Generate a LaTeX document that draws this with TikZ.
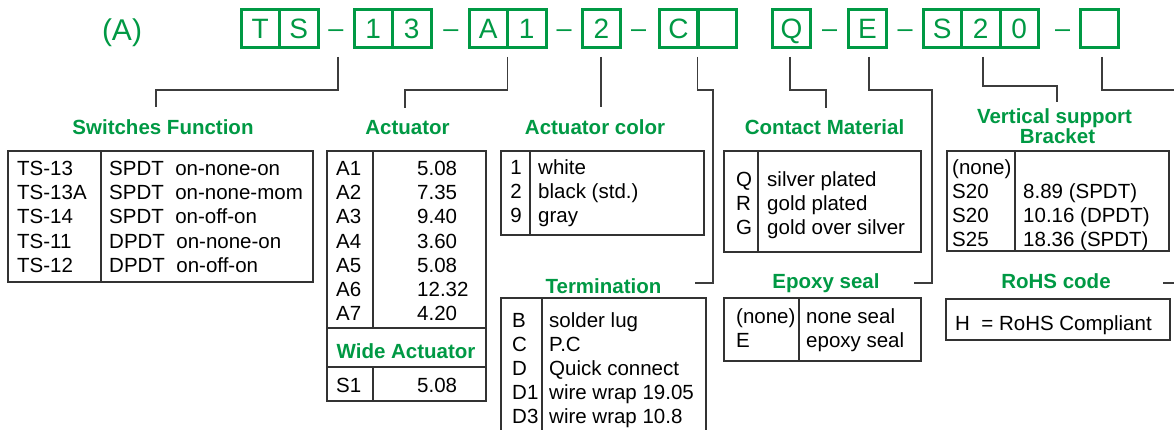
\documentclass[tikz,border=0pt]{standalone}
\usepackage{fontspec}
\setmainfont{Liberation Sans}
\definecolor{grn}{RGB}{0,153,68}
\definecolor{ln}{RGB}{60,60,60}
\definecolor{tb}{RGB}{50,50,50}
\tikzset{
  hbox/.style={draw=grn, line width=3pt, minimum width=38.5pt, minimum height=37.5pt,
    inner sep=0pt, text=grn, font=\fontsize{28}{30}\selectfont, text height=20pt, text depth=0pt},
  hdash/.style={text=grn, font=\fontsize{27}{30}\selectfont, anchor=base, inner sep=0pt},
  ttl/.style={text=grn, font=\fontsize{20.5}{24}\selectfont\bfseries, anchor=base, inner sep=0pt},
  cell/.style={font=\fontsize{20.5}{24}\selectfont, anchor=base west, inner sep=0pt, text=black},
  cellc/.style={font=\fontsize{20.5}{24}\selectfont, anchor=base, inner sep=0pt, text=black},
  leader/.style={draw=ln, line width=1.3pt},
  tbl/.style={draw=tb, line width=1.3pt},
}
\begin{document}
\begin{tikzpicture}[x=1pt,y=-1pt]
\useasboundingbox (0,0) rectangle (1174,430);
\fill[white] (0,0) rectangle (1174,430);

% label
\node[text=grn, font=\fontsize{30}{32}\selectfont, anchor=base, inner sep=0pt] (lab) at (122,41) {(A)};

% header boxes
\node[hbox] (h1) at (260.25,28.5) {T};
\node[hbox] (h2) at (298.75,28.5) {S};
\node[hdash] (d1) at (336,38) {–};
\node[hbox] (h3) at (373.25,28.5) {1};
\node[hbox] (h4) at (411.75,28.5) {3};
\node[hdash] (d2) at (451,38) {–};
\node[hbox] (h5) at (488.25,28.5) {A};
\node[hbox] (h6) at (526.75,28.5) {1};
\node[hdash] (d3) at (564,38) {–};
\node[hbox] (h7) at (601.5,28.5) {2};
\node[hdash] (d4) at (638.5,38) {–};
\node[hbox] (h8) at (678.5,28.5) {C};
\node[hbox] (h9) at (717.5,28.5) {};
\node[hbox] (h10) at (791.5,28.5) {Q};
\node[hdash] (d5) at (829.5,38) {–};
\node[hbox] (h11) at (867.5,28.5) {E};
\node[hdash] (d6) at (905,38) {–};
\node[hbox] (h12) at (942.25,28.5) {S};
\node[hbox] (h13) at (980.75,28.5) {2};
\node[hbox] (h14) at (1019.25,28.5) {0};
\node[hdash] (d7) at (1062.5,38) {–};
\node[hbox] (h15) at (1099.5,28.5) {};

% leader coordinates
\coordinate (s1) at (338,57);  \coordinate (e1) at (156,107);
\coordinate (s2) at (507.5,57); \coordinate (e2) at (405,108);
\coordinate (s3) at (601,57);  \coordinate (e3) at (601,107);
\coordinate (s4) at (697.5,57); \coordinate (e4) at (695,283);
\coordinate (s5) at (790,57);  \coordinate (e5) at (826,108);
\coordinate (s6) at (869,57);  \coordinate (e6) at (914,283);
\coordinate (s7) at (983,57);  \coordinate (e7) at (1057,102);
\coordinate (s8) at (1102,57); \coordinate (e8) at (1163,283);

\draw[leader] (s1) -- (338,90) -- (156,90) -- (e1);
\draw[leader] (s2) -- (507.5,90) -- (405,90) -- (e2);
\draw[leader] (s3) -- (e3);
\draw[leader] (s4) -- (697.5,90) -- (713,90) -- (713,283) -- (e4);
\draw[leader] (s5) -- (790,90) -- (826,90) -- (e5);
\draw[leader] (s6) -- (869,90) -- (932,90) -- (932,283) -- (e6);
\draw[leader] (s7) -- (983,86) -- (1057,86) -- (e7);
\draw[leader] (s8) -- (1102,90) -- (1185,90) -- (1185,283) -- (e8);

% ---------- Switches Function
\node[ttl] (t1) at (163,135) {Switches Function};
\foreach \t [count=\i] in {TS-13,TS-13A,TS-14,TS-11,TS-12}
  \node[cell] (swa\i) at (17,{176+24*(\i-1)}) {\t};
\foreach \t [count=\i] in {SPDT~~on-none-on,SPDT~~on-none-mom,SPDT~~on-off-on,DPDT~~on-none-on,DPDT~~on-off-on}
  \node[cell] (swb\i) at (109,{176+24*(\i-1)}) {\t};
\draw[tbl] (8,151) rectangle (313,282);
\draw[tbl] (101,151) -- (101,282);

% ---------- Actuator
\node[ttl] (t2) at (407.5,135) {Actuator};
\foreach \t [count=\i] in {A1,A2,A3,A4,A5,A6,A7}
  \node[cell] (aca\i) at (336,{176+24*(\i-1)}) {\t};
\foreach \t [count=\i] in {5.08,7.35,9.40,3.60,5.08,12.32,4.20}
  \node[cell] (acb\i) at (417,{176+24*(\i-1)}) {\t};
\node[ttl] (t2b) at (406,358) {Wide Actuator};
\node[cell] (wa1) at (336,392) {S1};
\node[cell] (wb1) at (417,392) {5.08};
\draw[tbl] (327,151) rectangle (486,401);
\draw[tbl] (373,151) -- (373,328);
\draw[tbl] (373,367) -- (373,401);
\draw[tbl] (327,328) -- (486,328);
\draw[tbl] (327,367) -- (486,367);

% ---------- Actuator color
\node[ttl] (t3) at (595,135) {Actuator color};
\foreach \t [count=\i] in {1,2,9}
  \node[cellc] (cca\i) at (516,{175+24*(\i-1)}) {\t};
\foreach \t [count=\i] in {white,black (std.),gray}
  \node[cell] (ccb\i) at (538,{175+24*(\i-1)}) {\t};
\draw[tbl] (501,151) rectangle (704,235);
\draw[tbl] (530,151) -- (530,235);

% ---------- Termination
\node[ttl] (t4) at (603.5,293) {Termination};
\foreach \t [count=\i] in {B,C,D,D1,D3}
  \node[cell] (tea\i) at (512,{327+24*(\i-1)}) {\t};
\foreach \t [count=\i] in {solder lug,P.C,Quick connect,wire wrap 19.05,wire wrap 10.8}
  \node[cell] (teb\i) at (549,{327+24*(\i-1)}) {\t};
\draw[tbl] (501,445) -- (501,298) -- (706,298) -- (706,445);
\draw[tbl] (542,298) -- (542,445);

% ---------- Contact Material
\node[ttl] (t5) at (824.5,135) {Contact Material};
\foreach \t [count=\i] in {Q,R,G}
  \node[cell] (cma\i) at (736,{187+24*(\i-1)}) {\t};
\foreach \t [count=\i] in {silver plated,gold plated,gold over silver}
  \node[cell] (cmb\i) at (767,{187+24*(\i-1)}) {\t};
\draw[tbl] (724,151) rectangle (921,252);
\draw[tbl] (758,151) -- (758,252);

% ---------- Epoxy seal
\node[ttl] (t6) at (826,288) {Epoxy seal};
\node[cell] (epa1) at (736,323) {(none)};
\node[cell] (epa2) at (736,347) {E};
\node[cell] (epb1) at (806,323) {none seal};
\node[cell] (epb2) at (806,347) {epoxy seal};
\draw[tbl] (724,298) rectangle (921,361);
\draw[tbl] (799,298) -- (799,361);

% ---------- Vertical support Bracket
\node[ttl] (t7a) at (1054.5,124) {Vertical support};
\node[ttl] (t7b) at (1057.5,144) {Bracket};
\foreach \t [count=\i] in {(none),S20,S20,S25}
  \node[cell] (vsa\i) at (952,{175+24*(\i-1)}) {\t};
\node[cell] (vsb2) at (1023,199) {8.89 (SPDT)};
\node[cell] (vsb3) at (1023,223) {10.16 (DPDT)};
\node[cell] (vsb4) at (1023,247) {18.36 (SPDT)};
\draw[tbl] (947,151) rectangle (1169,251);
\draw[tbl] (1015,151) -- (1015,251);

% ---------- RoHS code
\node[ttl] (t8) at (1056,288) {RoHS code};
\node[cell] (ro1) at (955,330) {H~~= RoHS Compliant};
\draw[tbl] (946,299) rectangle (1170,340);

\end{tikzpicture}
\end{document}
